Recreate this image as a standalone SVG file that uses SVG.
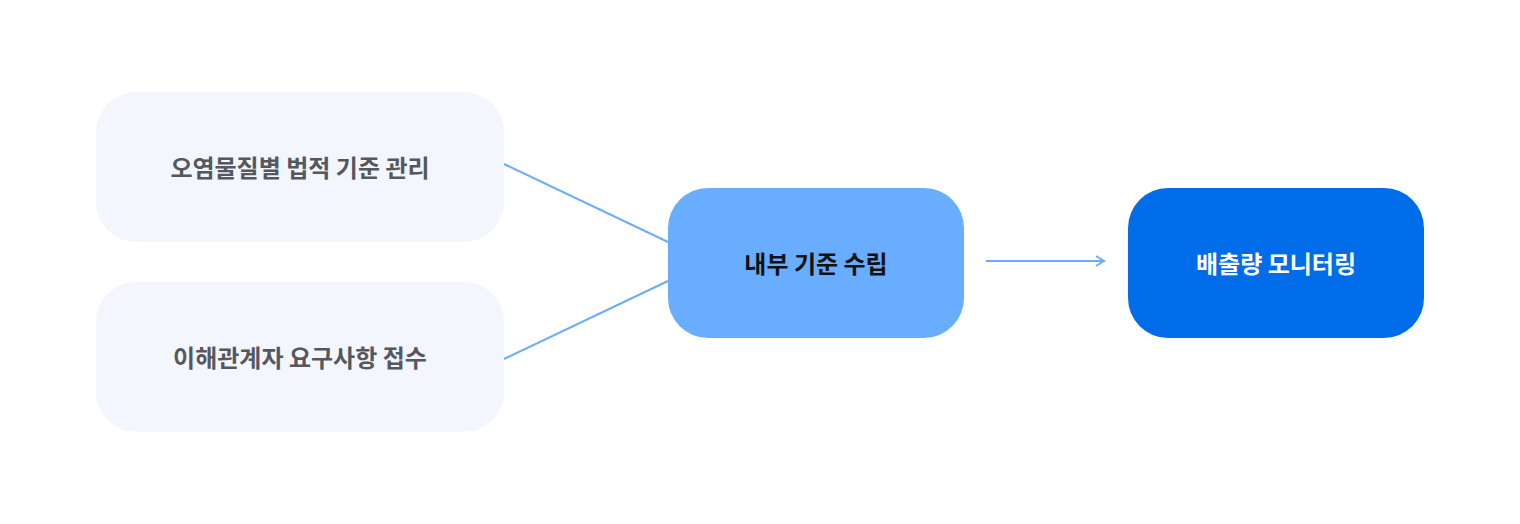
<svg xmlns="http://www.w3.org/2000/svg" width="1520" height="524" viewBox="0 0 1520 524">
<style>
.src{fill:#f3f6fc}
.t{font-family:"Noto Sans CJK KR","Noto Sans",sans-serif;font-size:24px;font-weight:bold;text-anchor:middle;dominant-baseline:central}
.g{fill:#55585f}
.c{stroke:#68adfe;stroke-width:2;fill:none}
</style>
<defs><marker id="a" markerWidth="12" markerHeight="12" refX="10" refY="6" orient="auto" markerUnits="userSpaceOnUse"><path d="M2,1 L10,6 L2,11" fill="none" stroke="#68adfe" stroke-width="2"/></marker></defs>
<rect width="1520" height="524" fill="#fff"/>
<g id="connectors">
<line class="c" x1="504" y1="164" x2="668" y2="242"/>
<line class="c" x1="504" y1="359" x2="668" y2="281"/>
<line class="c" x1="986" y1="261" x2="1104" y2="261" marker-end="url(#a)"/>
</g>
<g id="n1"><rect class="src" x="96" y="92" width="408" height="150" rx="40"/><text class="t g" x="300" y="166">오염물질별 법적 기준 관리</text></g>
<g id="n2"><rect class="src" x="96" y="282" width="408" height="150" rx="40"/><text class="t g" x="300" y="356">이해관계자 요구사항 접수</text></g>
<g id="n3"><rect x="668" y="188" width="296" height="150" rx="40" fill="#68adfe"/><text class="t" x="816" y="262" fill="#111">내부 기준 수립</text></g>
<g id="n4"><rect x="1128" y="188" width="296" height="150" rx="40" fill="#006ce9"/><text class="t" x="1276" y="262" fill="#fff">배출량 모니터링</text></g>
</svg>
